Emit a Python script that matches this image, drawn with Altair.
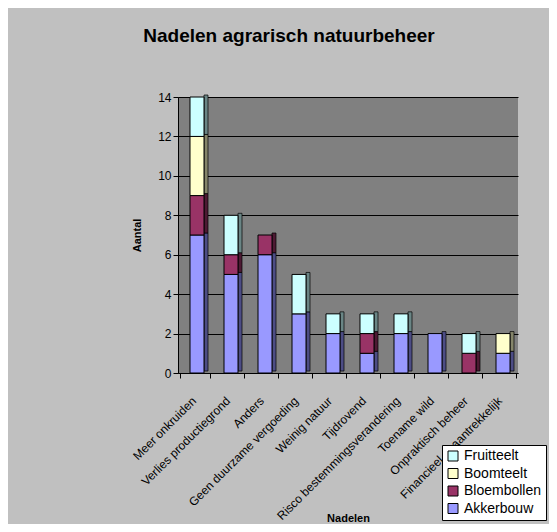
import altair as alt
import pandas as pd

categories = ["Meer onkruiden", "Verlies productiegrond", "Anders", "Geen duurzame vergoeding",
              "Weinig natuur", "Tijdrovend", "Risco bestemmingsverandering", "Toename wild",
              "Onpraktisch beheer", "Financieel onaantrekkelijk"]
akkerbouw = [7, 5, 6, 3, 2, 1, 2, 2, 0, 1]
bloembollen = [2, 1, 1, 0, 0, 1, 0, 0, 1, 0]
boomteelt = [3, 0, 0, 0, 0, 0, 0, 0, 0, 1]
fruitteelt = [2, 2, 0, 2, 1, 1, 1, 0, 1, 0]

series = ["Akkerbouw", "Bloembollen", "Boomteelt", "Fruitteelt"]
values = [akkerbouw, bloembollen, boomteelt, fruitteelt]
colors = {"Fruitteelt": "#CCFFFF", "Boomteelt": "#FFFFCC", "Bloembollen": "#993366", "Akkerbouw": "#9999FF"}
side_colors = {"Fruitteelt": "#6A8585", "Boomteelt": "#85856A", "Bloembollen": "#4D1A33", "Akkerbouw": "#4D4D85"}
legend_order = ["Fruitteelt", "Boomteelt", "Bloembollen", "Akkerbouw"]

rows = []
for si, (s, vals) in enumerate(zip(series, values)):
    for c, v in zip(categories, vals):
        if v > 0:
            rows.append({"Nadelen": c, "Serie": s, "Aantal": v, "volgorde": si,
                         "zijkleur": side_colors[s]})
df = pd.DataFrame(rows)

FONT = "Liberation Sans"

base = alt.Chart(df)

x_enc = alt.X("Nadelen:N", sort=categories, title="Nadelen",
              axis=alt.Axis(labelAngle=-45, labelFontSize=12, labelColor="black",
                            tickBand="extent", tickColor="black", tickSize=5,
                            domainColor="black", titleFontSize=11, titleFontWeight="bold",
                            titleColor="black", titleY=145, titleBaseline="middle",
                            labelPadding=17, labelOffset=-5))
y_enc = alt.Y("Aantal:Q", stack="zero", title="Aantal",
              scale=alt.Scale(domain=[0, 14], nice=False),
              axis=alt.Axis(values=[0, 2, 4, 6, 8, 10, 12, 14], labelFontSize=12, labelColor="black",
                            tickColor="black", tickSize=5, domainColor="black",
                            gridColor="black", gridWidth=1, gridOpacity=1,
                            titleFontSize=11, titleFontWeight="bold", titleColor="black",
                            titlePadding=15))

side = base.mark_bar(size=4, stroke="black", strokeWidth=0.7, xOffset=11, yOffset=-2).encode(
    x=x_enc,
    y=y_enc,
    color=alt.Color("zijkleur:N", scale=None),
    order=alt.Order("volgorde:Q", sort="ascending"),
)

front = base.mark_bar(size=14, stroke="black", strokeWidth=1, xOffset=2).encode(
    x=x_enc,
    y=y_enc,
    color=alt.Color("Serie:N",
                    scale=alt.Scale(domain=legend_order, range=[colors[s] for s in legend_order]),
                    legend=alt.Legend(title=None, orient="none", legendX=264, legendY=348,
                                      fillColor="white", strokeColor="black", padding=4,
                                      symbolType="square", symbolSize=100,
                                      symbolStrokeColor="black", symbolStrokeWidth=1,
                                      labelFontSize=14, labelColor="black", rowPadding=3.5,
                                      labelOffset=4, symbolOpacity=1)),
    order=alt.Order("volgorde:Q", sort="ascending"),
)

chart = alt.layer(side, front).resolve_scale(color="independent").properties(
    width=340, height=276,
    title=alt.Title("Nadelen agrarisch natuurbeheer", fontSize=19, fontWeight="bold",
                    color="black", anchor="middle", dx=-59, offset=45),
    autosize=alt.AutoSizeParams(type="none"),
    padding={"left": 170, "top": 89, "right": 31, "bottom": 151},
).configure(
    background="#C0C0C0", font=FONT
).configure_view(
    fill="#808080", stroke=None
)

chart.save("out.html", embed_options={"renderer": "svg", "actions": False})
